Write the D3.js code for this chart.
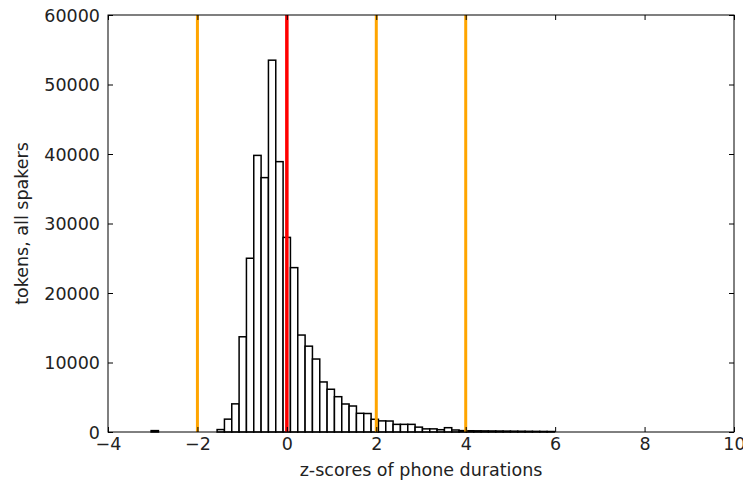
<!DOCTYPE html>
<html>
<head>
<meta charset="utf-8">
<script src="https://cdn.jsdelivr.net/npm/d3@7"></script>
<style>
  html, body { margin: 0; padding: 0; background: #fff; }
  svg { display: block; }
  text { font-family: "DejaVu Sans", sans-serif; fill: #222; }
</style>
</head>
<body>
<svg id="chart" width="743" height="489"></svg>
<script>
// Histogram of phone-duration z-scores: equal-width bins starting at binStart.
const binStart = -3.036;
const binWidth = 0.164;
const binCounts = [
  200, 0, 0, 0, 0, 0, 0, 0, 0,
  350, 1850, 4050, 13700, 25000, 39800, 36600, 53500, 38900, 28000,
  23650, 13950, 12350, 10500, 7200, 6150, 5080, 4030, 3740, 2690,
  2660, 1830, 1600, 1580, 1100, 1100, 1100, 700, 450, 450,
  330, 620, 290, 200,
  180, 170, 160, 150, 140, 130, 120, 110, 100, 90, 80, 70
];

// Reference lines: mean (red) and ±2 / +4 standard deviations (orange)
const meanLine = [0];
const sdLines = [-2, 2, 4];

const xTicks = [-4, -2, 0, 2, 4, 6, 8, 10];
const yTicks = [0, 10000, 20000, 30000, 40000, 50000, 60000];
const xLabel = "z-scores of phone durations";
const yLabel = "tokens, all spakers";

const svg = d3.select("#chart");
const plot = { left: 108, right: 734, top: 15, bottom: 432 };

const x = d3.scaleLinear().domain([-4, 10]).range([plot.left, plot.right]);
const y = d3.scaleLinear().domain([0, 60000]).range([plot.bottom, plot.top]);

const bins = binCounts.map((c, i) => ({
  x0: binStart + i * binWidth,
  x1: binStart + (i + 1) * binWidth,
  count: c
})).filter(d => d.count > 0);

// Bars
svg.append("g")
  .selectAll("rect")
  .data(bins)
  .join("rect")
  .attr("x", d => x(d.x0))
  .attr("width", d => x(d.x1) - x(d.x0))
  .attr("y", d => y(d.count))
  .attr("height", d => y(0) - y(d.count))
  .attr("fill", "#fff")
  .attr("stroke", "#000")
  .attr("stroke-width", 1.5);

// Vertical marker lines
svg.append("g")
  .selectAll("line")
  .data(sdLines)
  .join("line")
  .attr("x1", d => x(d)).attr("x2", d => x(d))
  .attr("y1", plot.top).attr("y2", plot.bottom)
  .attr("stroke", "#ffa500")
  .attr("stroke-width", 3);

svg.append("g")
  .selectAll("line")
  .data(meanLine)
  .join("line")
  .attr("x1", d => x(d)).attr("x2", d => x(d))
  .attr("y1", plot.top).attr("y2", plot.bottom)
  .attr("stroke", "#ff0000")
  .attr("stroke-width", 3.5);

const fmtX = d => (d < 0 ? "\u2212" + Math.abs(d) : String(d));

// Axes with inward ticks on all four sides
const tickLen = 5;
const axB = svg.append("g").attr("transform", `translate(0,${plot.bottom})`)
  .call(d3.axisBottom(x).tickValues(xTicks).tickSizeInner(-tickLen).tickSizeOuter(0).tickPadding(0).tickFormat(fmtX));
const axT = svg.append("g").attr("transform", `translate(0,${plot.top})`)
  .call(d3.axisTop(x).tickValues(xTicks).tickSizeInner(-tickLen).tickSizeOuter(0).tickFormat(""));
const axL = svg.append("g").attr("transform", `translate(${plot.left},0)`)
  .call(d3.axisLeft(y).tickValues(yTicks).tickSizeInner(-tickLen).tickSizeOuter(0).tickPadding(0).tickFormat(d3.format("d")));
const axR = svg.append("g").attr("transform", `translate(${plot.right},0)`)
  .call(d3.axisRight(y).tickValues(yTicks).tickSizeInner(-tickLen).tickSizeOuter(0).tickFormat(""));

[axB, axT, axL, axR].forEach(a => {
  a.select(".domain").remove();
  a.selectAll(".tick line").attr("stroke", "#000").attr("stroke-width", 1);
});

axB.selectAll(".tick text")
  .attr("y", 18).attr("dy", 0)
  .style("font-size", "17.5px")
  .style("font-family", "DejaVu Sans, sans-serif")
  .attr("fill", "#222");
axL.selectAll(".tick text")
  .attr("x", -8).attr("dy", "0.35em")
  .style("font-size", "17.5px")
  .style("font-family", "DejaVu Sans, sans-serif")
  .attr("fill", "#222");

// Frame
svg.append("rect")
  .attr("x", plot.left).attr("y", plot.top)
  .attr("width", plot.right - plot.left)
  .attr("height", plot.bottom - plot.top)
  .attr("fill", "none")
  .attr("stroke", "#000")
  .attr("stroke-width", 1);

// Axis labels
svg.append("text")
  .attr("x", (plot.left + plot.right) / 2)
  .attr("y", 476)
  .attr("text-anchor", "middle")
  .style("font-size", "17.5px")
  .text(xLabel);

svg.append("text")
  .attr("transform", `translate(27.5,${(plot.top + plot.bottom) / 2}) rotate(-90)`)
  .attr("text-anchor", "middle")
  .style("font-size", "17.5px")
  .text(yLabel);
</script>
</body>
</html>
